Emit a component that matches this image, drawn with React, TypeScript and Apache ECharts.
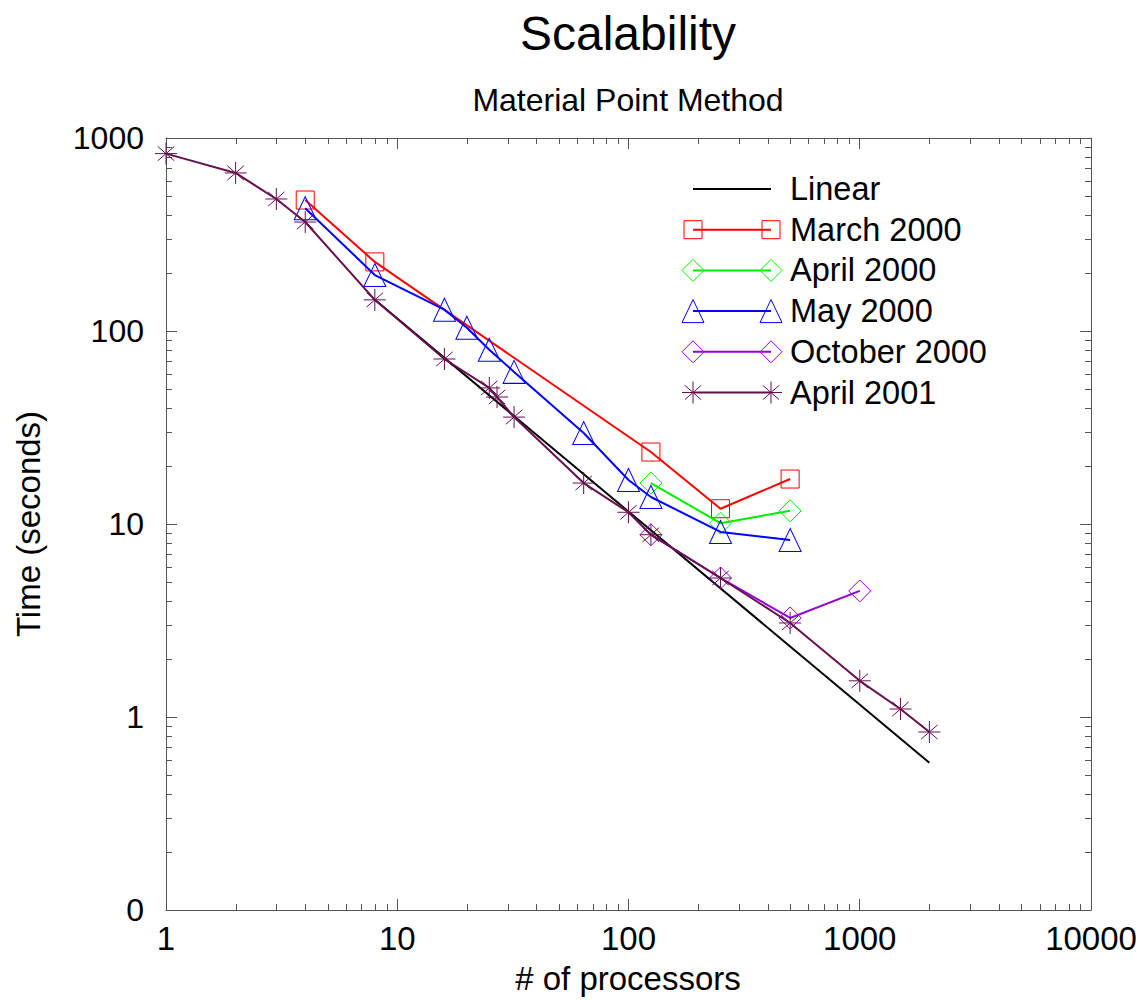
import React, { useEffect, useRef } from "react";
import * as echarts from "echarts";

// ---------- data ----------
const linearX = [8, 2000];
const linearY = [145, 0.58];

const march2000X = [4, 8, 125, 250, 500];
const march2000Y = [477, 228, 23.6, 12.0, 17.1];

const april2000X = [125, 250, 500];
const april2000Y = [16.3, 10.1, 11.7];

const may2000X = [4, 8, 16, 20, 25, 32, 64, 100, 125, 250, 500];
const may2000Y = [433, 195, 129, 104, 80, 61.4, 29.6, 16.9, 13.8, 9.1, 8.26];

const oct2000X = [125, 250, 500, 1000];
const oct2000Y = [8.8, 5.25, 3.26, 4.5];

const april2001X = [1, 2, 3, 4, 8, 16, 25, 27, 32, 64, 100, 125, 250, 500, 1000, 1500, 2000];
const april2001Y = [830, 659, 483, 367, 145, 71.6, 50.7, 45.5, 35.8, 16.3, 11.5, 8.8, 5.25, 3.07, 1.54, 1.1, 0.836];

const xMinorTicks = [
  2, 3, 4, 5, 6, 7, 8, 9,
  20, 30, 40, 50, 60, 70, 80, 90,
  200, 300, 400, 500, 600, 700, 800, 900,
  2000, 3000, 4000, 5000, 6000, 7000, 8000, 9000,
];
const yMinorTicks = [
  0.2, 0.3, 0.4, 0.5, 0.6, 0.7, 0.8, 0.9,
  2, 3, 4, 5, 6, 7, 8, 9,
  20, 30, 40, 50, 60, 70, 80, 90,
  200, 300, 400, 500, 600, 700, 800, 900,
];

const seriesNames = ["Linear", "March 2000", "April 2000", "May 2000", "October 2000", "April 2001"];
const seriesColors = ["#000000", "#ff0000", "#00ee00", "#0000ff", "#9400d3", "#66104f"];
const seriesSymbols = ["none", "rect", "diamond", "triangle", "diamond", "star"];

const titleText = "Scalability";
const subtitleText = "Material Point Method";
const xAxisTitle = "# of processors";
const yAxisTitle = "Time (seconds)";

const FONT = "Liberation Sans, Arial, Helvetica, sans-serif";
const FRAME = "#555555";

const STAR_PATH = "path://M10,0L10,20M0,10L20,10M2.5,3.5L17.5,16.5M17.5,3.5L2.5,16.5";

function zip(xs: number[], ys: number[]) {
  return xs.map((x, i) => [x, ys[i]]);
}

function symbolSpec(kind: string): { symbol: string; size: any } {
  switch (kind) {
    case "rect":
      return { symbol: "rect", size: 18 };
    case "diamond":
      return { symbol: "diamond", size: 22 };
    case "triangle":
      return { symbol: "triangle", size: [22, 23] };
    case "star":
      return { symbol: STAR_PATH, size: 22 };
    default:
      return { symbol: "none", size: 0 };
  }
}

function legendMarker(kind: string, cx: number, cy: number, color: string): any[] {
  const st = { fill: "none", stroke: color, lineWidth: 1 };
  if (kind === "rect") {
    return [{ type: "rect", shape: { x: cx - 9, y: cy - 9, width: 18, height: 18 }, style: st }];
  }
  if (kind === "diamond") {
    return [{ type: "polygon", shape: { points: [[cx, cy - 11], [cx + 11, cy], [cx, cy + 11], [cx - 11, cy]] }, style: st }];
  }
  if (kind === "triangle") {
    return [{ type: "polygon", shape: { points: [[cx, cy - 11.5], [cx + 11, cy + 11.5], [cx - 11, cy + 11.5]] }, style: st }];
  }
  if (kind === "star") {
    const r = 11;
    const dx = 8.2;
    const dy = 7.2;
    return [
      { type: "line", shape: { x1: cx, y1: cy - r, x2: cx, y2: cy + r }, style: st },
      { type: "line", shape: { x1: cx - r, y1: cy, x2: cx + r, y2: cy }, style: st },
      { type: "line", shape: { x1: cx - dx, y1: cy - dy, x2: cx + dx, y2: cy + dy }, style: st },
      { type: "line", shape: { x1: cx + dx, y1: cy - dy, x2: cx - dx, y2: cy + dy }, style: st },
    ];
  }
  return [];
}

export default function App() {
  const ref = useRef<HTMLDivElement | null>(null);

  useEffect(() => {
    document.body.style.margin = "0";
    if (!ref.current) return;
    const chart = echarts.init(ref.current, null, { renderer: "svg" });

    const dataSets = [
      zip(linearX, linearY),
      zip(march2000X, march2000Y),
      zip(april2000X, april2000Y),
      zip(may2000X, may2000Y),
      zip(oct2000X, oct2000Y),
      zip(april2001X, april2001Y),
    ];

    const lineSeries = seriesNames.map((name, i) => {
      const sp = symbolSpec(seriesSymbols[i]);
      return {
        type: "line",
        name,
        data: dataSets[i],
        xAxisIndex: 0,
        yAxisIndex: 0,
        symbol: sp.symbol,
        symbolSize: sp.size,
        showSymbol: sp.symbol !== "none",
        lineStyle: { color: seriesColors[i], width: 2 },
        itemStyle: { color: "none", borderColor: seriesColors[i], borderWidth: 1 },
        emphasis: { disabled: true },
        z: 3 + i,
      };
    });

    const minorXSeries = {
      type: "custom",
      name: "xminor",
      xAxisIndex: 0,
      yAxisIndex: 0,
      silent: true,
      clip: false,
      data: xMinorTicks.map((v) => [v, 1]),
      encode: { x: 0, y: 1 },
      renderItem: (params: any, api: any) => {
        const cs = params.coordSys;
        const p = api.coord([api.value(0), 1]);
        const x = Math.round(p[0]) + 0.5;
        const top = cs.y;
        const bottom = cs.y + cs.height;
        const st = { stroke: FRAME, lineWidth: 1 };
        return {
          type: "group",
          children: [
            { type: "line", shape: { x1: x, y1: bottom, x2: x, y2: bottom - 6 }, style: st },
            { type: "line", shape: { x1: x, y1: top, x2: x, y2: top + 6 }, style: st },
          ],
        };
      },
      z: 2,
    };

    const minorYSeries = {
      type: "custom",
      name: "yminor",
      xAxisIndex: 0,
      yAxisIndex: 0,
      silent: true,
      clip: false,
      data: yMinorTicks.map((v) => [1, v]),
      encode: { x: 0, y: 1 },
      renderItem: (params: any, api: any) => {
        const cs = params.coordSys;
        const p = api.coord([1, api.value(1)]);
        const y = Math.round(p[1]) + 0.5;
        const left = cs.x;
        const right = cs.x + cs.width;
        const st = { stroke: FRAME, lineWidth: 1 };
        return {
          type: "group",
          children: [
            { type: "line", shape: { x1: left, y1: y, x2: left + 6, y2: y }, style: st },
            { type: "line", shape: { x1: right, y1: y, x2: right - 6, y2: y }, style: st },
          ],
        };
      },
      z: 2,
    };

    // legend drawn as graphic
    const legendEls: any[] = [];
    const lx1 = 693;
    const lx2 = 771;
    const ly0 = 189;
    const lstep = 40.7;
    seriesNames.forEach((name, i) => {
      const cy = ly0 + lstep * i;
      const c = seriesColors[i];
      legendEls.push({
        type: "line",
        shape: { x1: lx1, y1: cy, x2: lx2, y2: cy },
        style: { stroke: c, lineWidth: 2 },
      });
      legendMarker(seriesSymbols[i], lx1, cy, c).forEach((e) => legendEls.push(e));
      legendMarker(seriesSymbols[i], lx2, cy, c).forEach((e) => legendEls.push(e));
      legendEls.push({
        type: "text",
        x: 790,
        y: cy,
        style: { text: name, fontSize: 32.5, fontFamily: FONT, fill: "#000", align: "left", verticalAlign: "middle" },
      });
    });

    const axisCommon = {
      type: "log",
      logBase: 10,
      axisLine: { show: true, lineStyle: { color: FRAME, width: 1 } },
      axisTick: { show: true, inside: true, length: 11, lineStyle: { color: FRAME, width: 1 } },
      splitLine: { show: false },
      minorTick: { show: false },
    };

    const option: any = {
      animation: false,
      backgroundColor: "#ffffff",
      grid: {
        left: 166,
        right: 47,
        top: 138,
        bottom: 90,
        containLabel: false,
        outerBoundsMode: "none",
      },
      xAxis: [
        {
          ...axisCommon,
          position: "bottom",
          min: 1,
          max: 10000,
          axisLabel: {
            show: true,
            fontSize: 33,
            fontFamily: FONT,
            color: "#000",
            margin: 12,
            formatter: (v: number) => String(Math.round(v)),
          },
        },
        {
          ...axisCommon,
          position: "top",
          min: 1,
          max: 10000,
          axisLabel: { show: false },
        },
      ],
      yAxis: [
        {
          ...axisCommon,
          position: "left",
          min: 0.1,
          max: 1000,
          axisLabel: {
            show: true,
            fontSize: 32,
            fontFamily: FONT,
            color: "#000",
            margin: 22,
            formatter: (v: number) => (v < 0.99 ? "0" : String(Math.round(v))),
          },
        },
        {
          ...axisCommon,
          position: "right",
          min: 0.1,
          max: 1000,
          axisLabel: { show: false },
        },
      ],
      graphic: [
        {
          type: "text",
          x: 628,
          y: 33,
          style: { text: titleText, fontSize: 48, fontFamily: FONT, fill: "#000", align: "center", verticalAlign: "middle" },
        },
        {
          type: "text",
          x: 628,
          y: 100,
          style: { text: subtitleText, fontSize: 32, fontFamily: FONT, fill: "#000", align: "center", verticalAlign: "middle" },
        },
        {
          type: "text",
          x: 628,
          y: 978,
          style: { text: xAxisTitle, fontSize: 33, fontFamily: FONT, fill: "#000", align: "center", verticalAlign: "middle" },
        },
        {
          type: "text",
          x: 28,
          y: 524,
          rotation: Math.PI / 2,
          style: { text: yAxisTitle, fontSize: 33, fontFamily: FONT, fill: "#000", align: "center", verticalAlign: "middle" },
        },
        ...legendEls,
      ],
      series: [minorXSeries, minorYSeries, ...lineSeries],
    };

    chart.setOption(option);
    return () => {
      chart.dispose();
    };
  }, []);

  return <div ref={ref} style={{ width: 1138, height: 1000 }} />;
}
